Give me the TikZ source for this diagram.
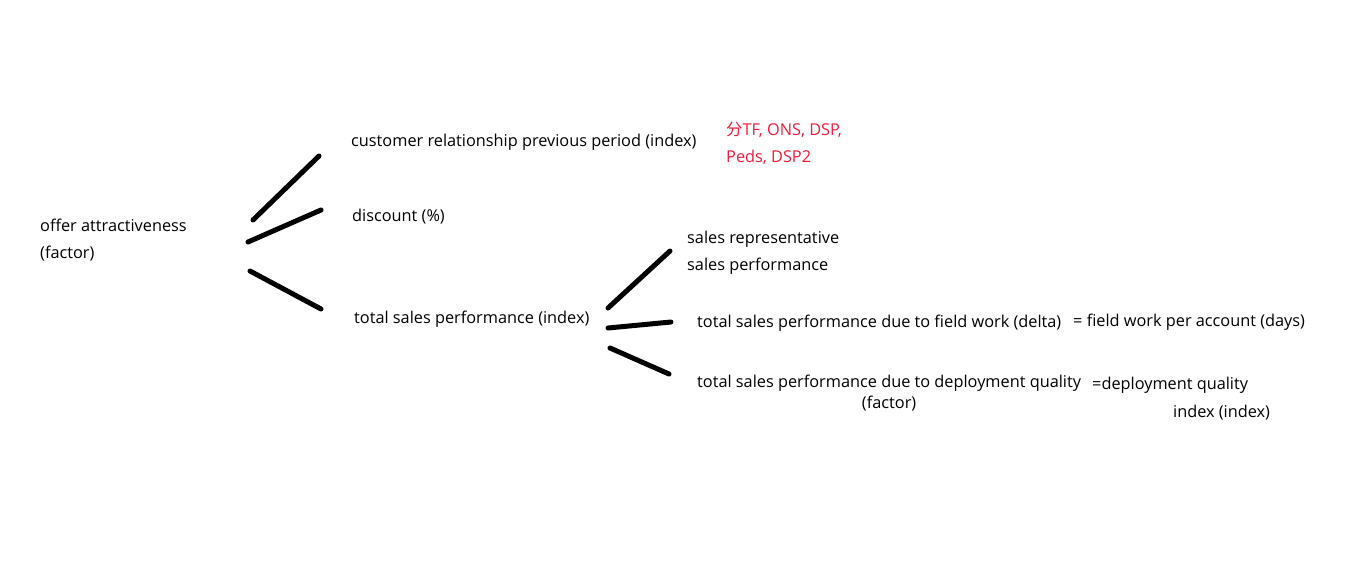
\documentclass[tikz,border=0pt]{standalone}
\usepackage{fontspec}
\setmainfont{Open Sans}
\newfontfamily\cjk{Noto Sans CJK SC}
\usetikzlibrary{positioning}
\definecolor{notered}{RGB}{236,28,58}

\begin{document}
\begin{tikzpicture}[
    x=1pt, y=-1pt,
    label/.style={anchor=west, inner sep=0pt, font=\fontsize{16.3}{27}\selectfont, align=left},
    note/.style={label, text=notered},
    stroke/.style={line width=5pt, line cap=round}
]
\useasboundingbox (0,0) rectangle (1355,560);

% Root
\node[label] at (40,240) (root) {offer attractiveness\\(factor)};

% First level
\node[label] at (351,142) (crel) {customer relationship previous period (index)};
\node[label] at (352,217) (disc) {discount (\%)};
\node[label] at (354,319) (tsp) {total sales performance (index)};
\node[note] at (726,143) (tags) {{\cjk 分}TF, ONS, DSP,\\Peds, DSP2};

% Second level
\node[label] at (687,253) (srep) {sales representative\\sales performance};
\node[label] at (697,323) (field) {total sales performance due to field work (delta)};
\node[label] at (1073,322) (fieldeq) {= field work per account (days)};
\node[label, align=center, font=\fontsize{16.3}{21}\selectfont] at (697,393) (depl) {total sales performance due to deployment quality\\(factor)};
\node[label] at (1092,385) (depleq) {=deployment quality};
\node[label] at (1173,413) (deplidx) {index (index)};

% Strokes, root to first level
\coordinate (r1) at (253,220); \coordinate (c1) at (319,156);
\coordinate (r2) at (248,242); \coordinate (c2) at (321,210);
\coordinate (r3) at (250,271); \coordinate (c3) at (321,309);
\draw[stroke] (r1) -- (c1);
\draw[stroke] (r2) -- (c2);
\draw[stroke] (r3) -- (c3);

% Strokes, total sales performance to second level
\coordinate (t1) at (608,308); \coordinate (s1) at (670,251);
\coordinate (t2) at (608,328); \coordinate (s2) at (671,322);
\coordinate (t3) at (610,348); \coordinate (s3) at (669,374);
\draw[stroke] (t1) -- (s1);
\draw[stroke] (t2) -- (s2);
\draw[stroke] (t3) -- (s3);

\end{tikzpicture}
\end{document}
